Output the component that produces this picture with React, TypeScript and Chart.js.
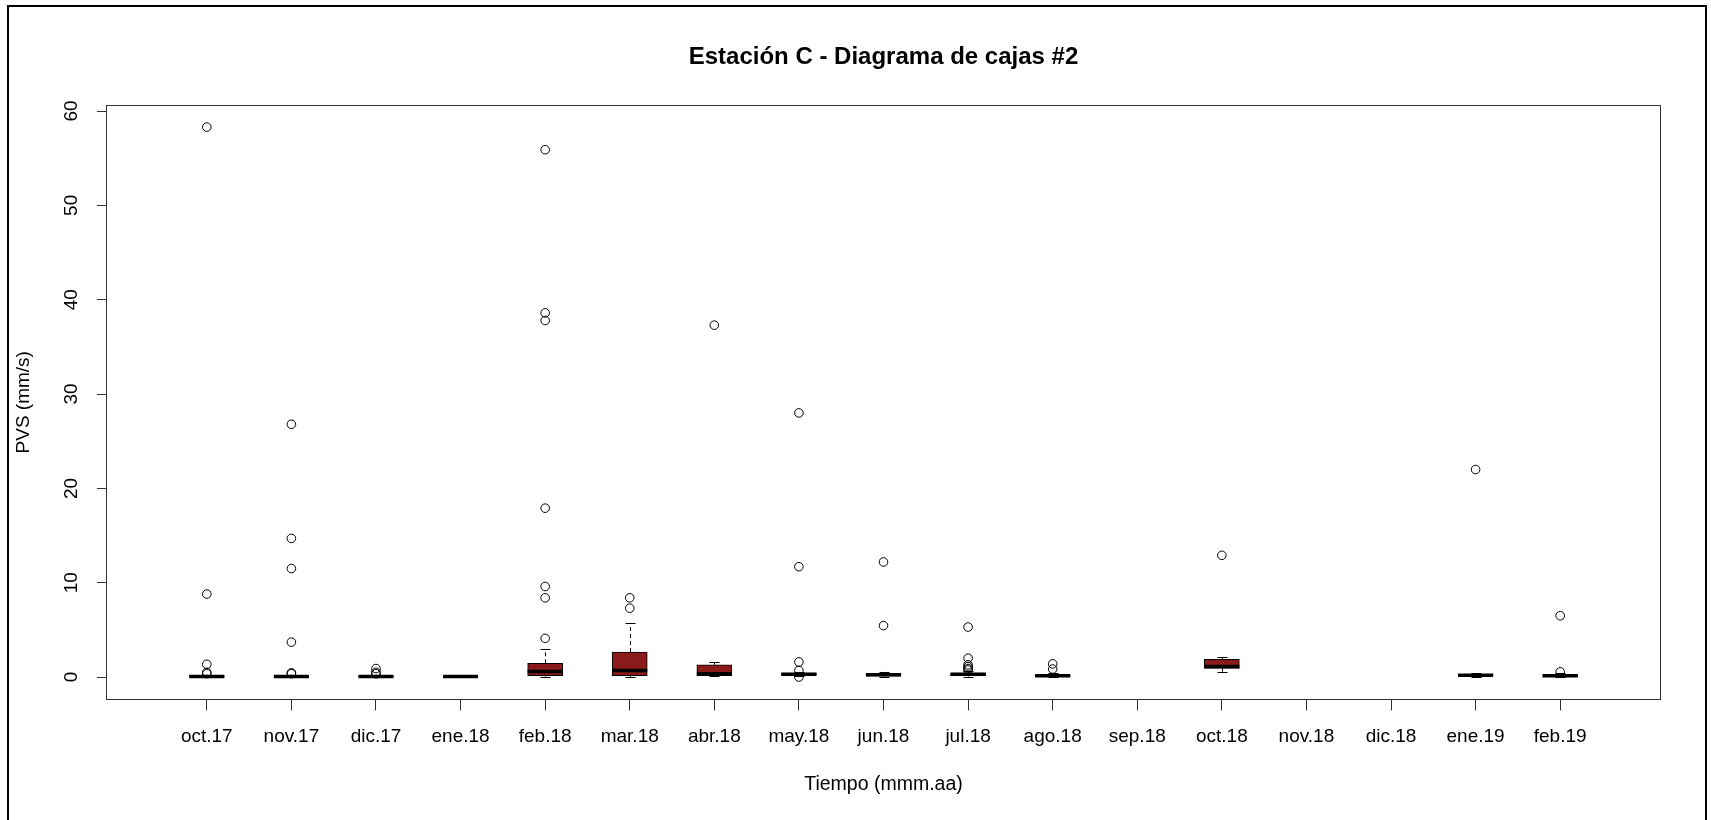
import React, { useEffect, useRef } from 'react';
import { Chart, registerables } from 'chart.js';

Chart.register(...registerables);

// ---------- data ----------
const categories = [
  'oct.17', 'nov.17', 'dic.17', 'ene.18', 'feb.18', 'mar.18', 'abr.18', 'may.18', 'jun.18',
  'jul.18', 'ago.18', 'sep.18', 'oct.18', 'nov.18', 'dic.18', 'ene.19', 'feb.19',
];

const whiskerLow: (number | null)[] = [0.0, 0.0, 0.0, 0.0, 0.05, 0.02, 0.1, 0.15, 0.02, 0.05, 0.0, null, 0.57, null, null, 0.05, 0.02];
const q1: (number | null)[] = [0.02, 0.02, 0.02, 0.02, 0.15, 0.15, 0.15, 0.2, 0.1, 0.15, 0.05, null, 0.92, null, null, 0.1, 0.05];
const median: (number | null)[] = [0.05, 0.06, 0.06, 0.05, 0.6, 0.7, 0.36, 0.3, 0.25, 0.3, 0.15, null, 1.13, null, null, 0.2, 0.15];
const q3: (number | null)[] = [0.12, 0.12, 0.12, 0.1, 1.45, 2.65, 1.3, 0.42, 0.4, 0.42, 0.25, null, 1.87, null, null, 0.3, 0.25];
const whiskerHigh: (number | null)[] = [0.25, 0.25, 0.25, 0.2, 2.95, 5.7, 1.6, 0.55, 0.55, 0.6, 0.4, null, 2.13, null, null, 0.4, 0.4];

const outliers: number[][] = [
  [58.3, 8.8, 1.35, 0.5, 0.35],
  [26.8, 14.7, 11.5, 3.7, 0.45, 0.35],
  [0.9, 0.5, 0.35],
  [],
  [55.9, 38.6, 37.8, 17.9, 9.6, 8.4, 4.1],
  [8.4, 7.3],
  [37.3],
  [28.0, 11.7, 1.6, 0.7, 0.0],
  [12.2, 5.45],
  [5.3, 2.0, 1.3, 1.1, 0.9, 0.75],
  [1.4, 0.85],
  [],
  [12.9],
  [],
  [],
  [22.0],
  [6.5, 0.55],
];

const yTicks = [0, 10, 20, 30, 40, 50, 60];

const TITLE = 'Estación C - Diagrama de cajas #2';
const X_TITLE = 'Tiempo (mmm.aa)';
const Y_TITLE = 'PVS (mm/s)';

// ---------- styles ----------
const FONT_FAMILY = "'Liberation Sans', Arial, sans-serif";
const BOX_FILL = '#8B1A1A';
const BOX_WIDTH = 35;
const STAPLE_HALF = 5;

const boxplotExtras = {
  id: 'boxplotExtras',
  beforeDatasetsDraw(chart: any) {
    const { ctx, scales } = chart;
    const xs = scales.x;
    const ys = scales.y;
    ctx.save();
    ctx.strokeStyle = '#000';
    ctx.lineWidth = 1;
    categories.forEach((_, i) => {
      if (q1[i] == null) return;
      const x = Math.round(xs.getPixelForValue(i + 1)) + 0.5;
      const pLo = ys.getPixelForValue(whiskerLow[i] as number);
      const pQ1 = ys.getPixelForValue(q1[i] as number);
      const pQ3 = ys.getPixelForValue(q3[i] as number);
      const pHi = ys.getPixelForValue(whiskerHigh[i] as number);
      ctx.setLineDash([4, 3]);
      ctx.beginPath();
      ctx.moveTo(x, pQ3);
      ctx.lineTo(x, pHi);
      ctx.moveTo(x, pQ1);
      ctx.lineTo(x, pLo);
      ctx.stroke();
      ctx.setLineDash([]);
      ctx.beginPath();
      ctx.moveTo(x - STAPLE_HALF, Math.round(pHi) + 0.5);
      ctx.lineTo(x + STAPLE_HALF, Math.round(pHi) + 0.5);
      ctx.moveTo(x - STAPLE_HALF, Math.round(pLo) + 0.5);
      ctx.lineTo(x + STAPLE_HALF, Math.round(pLo) + 0.5);
      ctx.stroke();
    });
    ctx.restore();
  },
  afterDatasetDraw(chart: any, args: any) {
    if (args.index !== 0) return;
    const { ctx, scales } = chart;
    const xs = scales.x;
    const ys = scales.y;
    ctx.save();
    ctx.strokeStyle = '#000';
    ctx.lineWidth = 3.5;
    ctx.lineCap = 'butt';
    categories.forEach((_, i) => {
      if (median[i] == null) return;
      const x = xs.getPixelForValue(i + 1);
      const y = ys.getPixelForValue(median[i] as number);
      ctx.beginPath();
      ctx.moveTo(x - BOX_WIDTH / 2, y);
      ctx.lineTo(x + BOX_WIDTH / 2, y);
      ctx.stroke();
    });
    ctx.restore();
  },
  afterDraw(chart: any) {
    const { ctx, chartArea } = chart;
    ctx.save();
    ctx.strokeStyle = '#333';
    ctx.lineWidth = 1;
    ctx.strokeRect(
      Math.round(chartArea.left) - 0.5,
      Math.round(chartArea.top) + 0.5,
      Math.round(chartArea.right - chartArea.left) + 1,
      Math.round(chartArea.bottom - chartArea.top) - 1,
    );
    // outer figure frame
    ctx.strokeStyle = '#000';
    ctx.lineWidth = 2;
    ctx.beginPath();
    ctx.moveTo(8, 822);
    ctx.lineTo(8, 6);
    ctx.lineTo(1706, 6);
    ctx.lineTo(1706, 822);
    ctx.stroke();
    ctx.restore();
  },
};

export default function App() {
  const canvasRef = useRef<HTMLCanvasElement | null>(null);

  useEffect(() => {
    if (!canvasRef.current) return;
    const tickFont = { family: FONT_FAMILY, size: 19 };

    const boxData = categories
      .map((_, i) => (q1[i] == null ? null : { x: i + 1, y: [q1[i], q3[i]] }))
      .filter((d) => d !== null);
    const outlierData = outliers.flatMap((arr, i) => arr.map((v) => ({ x: i + 1, y: v })));

    const chart = new Chart(canvasRef.current, {
      type: 'bar',
      data: {
        datasets: [
          {
            type: 'bar',
            data: boxData as any,
            backgroundColor: BOX_FILL,
            borderColor: '#000',
            borderWidth: 1,
            borderSkipped: false,
            barThickness: BOX_WIDTH,
            order: 1,
          } as any,
          {
            type: 'scatter',
            data: outlierData as any,
            pointRadius: 4.3,
            pointStyle: 'circle',
            backgroundColor: 'rgba(0,0,0,0)',
            borderColor: '#000',
            borderWidth: 1,
            showLine: false,
            order: 0,
          } as any,
        ],
      },
      options: {
        responsive: false,
        animation: false,
        events: [],
        layout: { padding: { left: 0, right: 51, top: 0, bottom: 0 } },
        plugins: {
          legend: { display: false },
          tooltip: { enabled: false },
          title: {
            display: true,
            fullSize: false,
            text: TITLE,
            color: '#000',
            font: { family: FONT_FAMILY, size: 24, weight: 'bold' },
            padding: { top: 42.6, bottom: 33.6 },
          },
        },
        scales: {
          x: {
            type: 'linear',
            min: -0.18,
            max: 18.18,
            bounds: 'data',
            offset: false,
            afterBuildTicks: (s: any) => {
              s.ticks = categories.map((_, i) => ({ value: i + 1 }));
            },
            afterFit: (s: any) => {
              s.height = 120.5;
            },
            ticks: {
              autoSkip: false,
              maxRotation: 0,
              minRotation: 0,
              color: '#000',
              font: tickFont,
              padding: 15,
              callback: (v: any) => categories[Number(v) - 1] ?? '',
            },
            grid: { offset: false, drawOnChartArea: false, drawTicks: true, tickLength: 11, color: '#333' },
            border: { display: false },
            title: {
              display: true,
              text: X_TITLE,
              color: '#000',
              font: { family: FONT_FAMILY, size: 19.5 },
              padding: { top: 0, bottom: 23.3 },
            },
          },
          y: {
            type: 'linear',
            min: -2.38,
            max: 60.64,
            bounds: 'data',
            afterBuildTicks: (s: any) => {
              s.ticks = yTicks.map((v) => ({ value: v }));
            },
            afterFit: (s: any) => {
              s.width = 107;
            },
            ticks: {
              color: '#000',
              font: tickFont,
              minRotation: 90,
              maxRotation: 90,
              crossAlign: 'center',
              padding: 14.5,
            },
            grid: { drawOnChartArea: false, drawTicks: true, tickLength: 10, color: '#333' },
            border: { display: false },
            title: {
              display: true,
              text: Y_TITLE,
              color: '#000',
              font: tickFont,
              padding: { top: 12.6, bottom: 0 },
            },
          },
        },
      } as any,
      plugins: [boxplotExtras],
    });

    return () => chart.destroy();
  }, []);

  return (
    <div style={{ position: 'absolute', left: 0, top: 0, width: 1711, height: 820, background: '#fff' }}>
      <canvas ref={canvasRef} width={1711} height={820} style={{ display: 'block' }} />
    </div>
  );
}
